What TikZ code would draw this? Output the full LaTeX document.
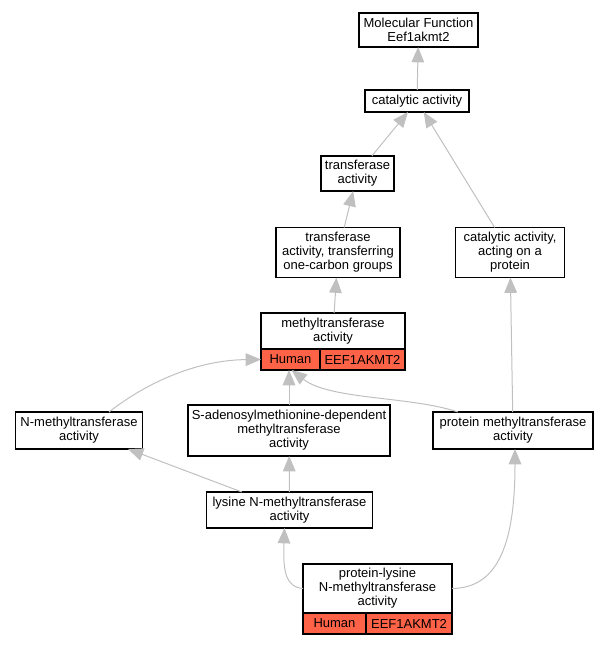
\documentclass[tikz,border=0pt]{standalone}
\usepackage{fontspec}
\setmainfont{Liberation Sans}
\usetikzlibrary{arrows.meta,positioning}
\definecolor{edgegray}{HTML}{C0C0C0}
\definecolor{tomato}{HTML}{FF6347}

\begin{document}
\begin{tikzpicture}[x=0.75pt,y=-0.75pt, >={Triangle[width=9.5pt,length=11.5pt]}]
	\tikzstyle{term} = [draw, fill=white, rectangle, line width=0.8pt, inner sep=0pt, outer sep=0pt, font=\fontsize{9.75}{10.5}\selectfont]
	\tikzstyle{gene} = [term, fill=tomato, minimum height=15.75pt]
	\tikzstyle{isa} = [draw=edgegray, line width=0.75pt, ->]

	\useasboundingbox (0,0) rectangle (609,645);

	\node[term, minimum width=89.25pt, minimum height=25.5pt] (mf) at (418.5,30) {\begin{minipage}{89.25pt}
		\centering
		Molecular Function \\
		Eef1akmt2
	\end{minipage}};
	\node[term, minimum width=78pt, minimum height=16.5pt] (cat) at (417,101) {\begin{minipage}{78pt}
		\centering
		catalytic activity
	\end{minipage}};
	\node[term, minimum width=54.75pt, minimum height=26.25pt] (tr) at (357.5,173.5) {\begin{minipage}{54.75pt}
		\centering
		transferase \\
		activity
	\end{minipage}};
	\node[term, minimum width=93pt, minimum height=37.5pt] (oc) at (338,252.5) {\begin{minipage}{93pt}
		\centering
		transferase \\
		activity, transferring \\
		one-carbon groups
	\end{minipage}};
	\node[term, minimum width=81.75pt, minimum height=37.5pt] (ao) at (510,252.5) {\begin{minipage}{81.75pt}
		\centering
		catalytic activity, \\
		acting on a \\
		protein
	\end{minipage}};

	% methyltransferase with its gene row
	\node[term, minimum width=108pt, minimum height=27pt] (mt) at (333,331) {\begin{minipage}{108pt}
		\centering
		methyltransferase \\
		activity
	\end{minipage}};
	\node[gene, minimum width=44.25pt, below right=0pt and 0pt of mt.south west] (mh) {Human};
	\node[gene, minimum width=63.75pt, right=0pt of mh] (mg) {EEF1AKMT2};

	\node[term, minimum width=95.25pt, minimum height=27.75pt] (nmt) at (79,430.5) {\begin{minipage}{95.25pt}
		\centering
		N-methyltransferase \\
		activity
	\end{minipage}};
	\node[term, minimum width=151.5pt, minimum height=38.25pt] (sam) at (289,430.5) {\begin{minipage}{151.5pt}
		\centering
		S-adenosylmethionine-dependent \\
		methyltransferase \\
		activity
	\end{minipage}};
	\node[term, minimum width=120pt, minimum height=27.75pt] (pm) at (513,430.5) {\begin{minipage}{120pt}
		\centering
		protein methyltransferase \\
		activity
	\end{minipage}};
	\node[term, minimum width=124.5pt, minimum height=27pt] (lys) at (289.5,510) {\begin{minipage}{124.5pt}
		\centering
		lysine N-methyltransferase \\
		activity
	\end{minipage}};

	% protein-lysine with its gene row
	\node[term, minimum width=111.75pt, minimum height=36.75pt] (pl) at (377.5,588.5) {\begin{minipage}{111.75pt}
		\centering
		protein-lysine \\
		N-methyltransferase \\
		activity
	\end{minipage}};
	\node[gene, minimum width=47.25pt, below right=0pt and 0pt of pl.south west] (plh) {Human};
	\node[gene, minimum width=64.5pt, right=0pt of plh] (plg) {EEF1AKMT2};

	\draw[isa] (cat) -- (mf);
	\draw[isa] (tr) -- (cat);
	\draw[isa] (ao) -- (cat);
	\draw[isa] (oc) -- (tr);
	\draw[isa] (mt) -- (oc);
	\draw[isa] ([shift={(30,0)}]nmt.north) .. controls (150,380) and (200,360) .. (mh.west);
	\draw[isa] (sam) -- (sam.north |- mh.south);
	\draw[isa] ([shift={(-55,0)}]pm.north) .. controls (410,396) and (330,400) .. ([shift={(1,0)}]mh.south);
	\draw[isa] (pm) -- (ao);
	\draw[isa] (lys) -- (nmt);
	\draw[isa] (lys) -- (sam);
	\draw[isa] (pl.west) .. controls (285,587) and (283,570) .. ([shift={(-5,0)}]lys.south);
	\draw[isa] (pl.east) .. controls (495,588) and (515,550) .. ([shift={(2,0)}]pm.south);
\end{tikzpicture}
\end{document}
